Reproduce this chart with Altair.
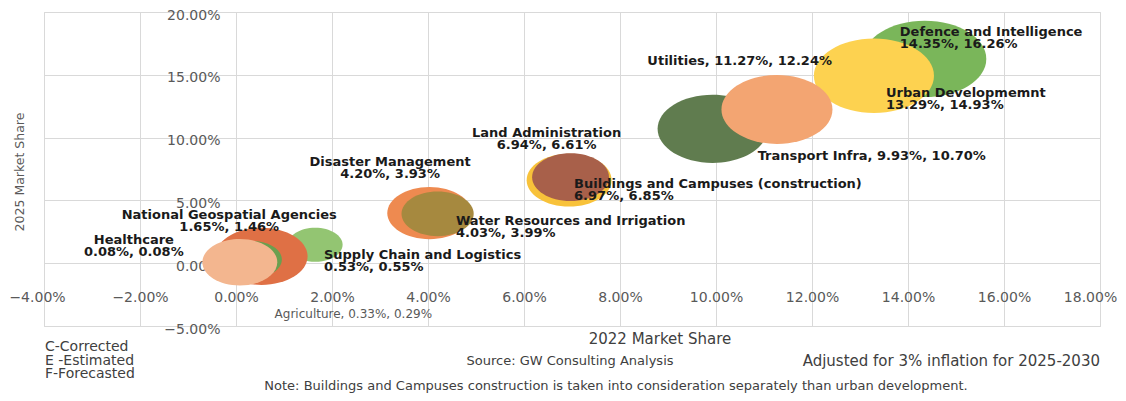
import altair as alt
import pandas as pd

# ---- data ----
names = [
    "Defence and Intelligence",
    "Urban Developmemnt",
    "Transport Infra",
    "Utilities",
    "Land Administration",
    "Buildings and Campuses (construction)",
    "Water Resources and Irrigation",
    "Disaster Management",
    "National Geospatial Agencies",
    "Supply Chain and Logistics",
    "Agriculture",
    "Healthcare",
]
share_2022 = [14.35, 13.29, 9.93, 11.27, 6.94, 6.97, 4.03, 4.20, 1.65, 0.53, 0.33, 0.08]
share_2025 = [16.26, 14.93, 10.70, 12.24, 6.61, 6.85, 3.99, 3.93, 1.46, 0.55, 0.29, 0.08]
bubble_area = [151, 144, 121, 123, 72, 59, 71, 52, 30, 85, 36, 56]  # relative bubble sizes
x_ticks = [-4, -2, 0, 2, 4, 6, 8, 10, 12, 14, 16, 18]
y_ticks = [-5, 0, 5, 10, 15, 20]

# ---- styling / layout (not data) ----
colors = ["#7ab65a", "#fdd250", "#607c4f", "#f3a572", "#f8c23a", "#a8604a",
          "#ee8a50", "#a6893f", "#93c572", "#df7045", "#6a9f4f", "#f3b68f"]
# label layout: (align, dx, dy, separator, bold)
label_layout = {
    "Defence and Intelligence": ("left", -25, -33, "\n", True),
    "Urban Developmemnt": ("left", 12, 11, "\n", True),
    "Transport Infra": ("left", 45, 21, ", ", True),
    "Utilities": ("right", 55, -54.5, ", ", True),
    "Land Administration": ("center", -22.5, -53.5, "\n", True),
    "Buildings and Campuses (construction)": ("left", 3.5, 0.5, "\n", True),
    "Water Resources and Irrigation": ("left", 26.5, 1.5, "\n", True),
    "Disaster Management": ("center", -47.5, -57.5, "\n", True),
    "National Geospatial Agencies": ("center", -86, -36, "\n", True),
    "Supply Chain and Logistics": ("left", 62.5, -7.5, "\n", True),
    "Agriculture": ("center", 101.5, 49.5, ", ", False),
    "Healthcare": ("center", -106, -28.5, "\n", True),
}

FONT = "DejaVu Sans"
ELLIPSE = "M -1 0 A 1 0.62 0 1 1 1 0 A 1 0.62 0 1 1 -1 0 Z"

labels = []
for n, a, b in zip(names, share_2022, share_2025):
    sep = label_layout[n][3]
    labels.append(f"{n}{sep}{a:.2f}%, {b:.2f}%")

df = pd.DataFrame({
    "name": names,
    "share_2022": share_2022,
    "share_2025": share_2025,
    "bubble": bubble_area,
    "label": labels,
    "z": list(range(len(names))),
})

x_scale = alt.Scale(domain=[-4, 18], nice=False, zero=False)
y_scale = alt.Scale(domain=[-5, 20], nice=False, zero=False)
x_axis = alt.Axis(values=x_ticks, labelExpr="format(datum.value, '.2f') + '%'",
                  title=None, grid=True, gridColor="#d9d9d9", gridWidth=1,
                  domain=False, ticks=False, tickSize=0, labelPadding=-36,
                  labelOffset=alt.ExprRef("datum.value == -4 ? -7 : (datum.value == 18 ? -10 : 0)"),
                  labelFont=FONT, labelFontSize=14, labelColor="#595959",
                  labelFlush=False, labelOverlap=False)
y_axis = alt.Axis(values=y_ticks, labelExpr="format(datum.value, '.2f') + '%'",
                  title=None, grid=True, gridColor="#d9d9d9", gridWidth=1,
                  domain=False, ticks=False, tickSize=0, labelPadding=-176,
                  labelOffset=3,
                  labelFont=FONT, labelFontSize=14, labelColor="#595959",
                  labelFlush=False, labelOverlap=False)

X = alt.X("share_2022:Q", scale=x_scale, axis=x_axis)
Y = alt.Y("share_2025:Q", scale=y_scale, axis=y_axis)

base = alt.Chart(df)

bubbles = base.mark_point(shape=ELLIPSE, filled=True, opacity=1, strokeWidth=0).encode(
    x=X, y=Y,
    size=alt.Size("bubble:Q", scale=alt.Scale(domain=[0, 151], range=[0, 15129]), legend=None),
    color=alt.Color("name:N", scale=alt.Scale(domain=names, range=colors), legend=None),
    order=alt.Order("z:Q"),
)

layers = [bubbles]
for n in names:
    align, dx, dy, sep, bold = label_layout[n]
    layers.append(
        base.transform_filter(alt.datum.name == n).mark_text(
            align=align, baseline="top", dx=dx, dy=dy, lineBreak="\n", lineHeight=12,
            font=FONT, fontSize=13 if bold else 12,
            fontWeight="bold" if bold else "normal",
            color="#1a1a1a" if bold else "#595959",
        ).encode(x=X, y=Y, text="label:N")
    )

one = pd.DataFrame({"k": [0]})


def note(text, x, y, size, align="left", color="#404040", angle=0):
    return alt.Chart(one).mark_text(
        text=text, align=align, baseline="middle", font=FONT, fontSize=size,
        color=color, angle=angle,
    ).encode(x=alt.value(x), y=alt.value(y))


# positions below are relative to the plot's top-left corner (44, 12 on the page)
layers += [
    note("2022 Market Share", 616, 327, 15, "center"),
    note("2025 Market Share", -24, 160, 12.5, "center", "#595959", 270),
    note("C-Corrected", 1, 335, 14),
    note("E -Estimated", 1, 349, 14),
    note("F-Forecasted", 1, 362, 14),
    note("Source: GW Consulting Analysis", 526, 349, 13, "center"),
    note("Adjusted for 3% inflation for 2025-2030", 1056, 349, 15, "right"),
    note("Note: Buildings and Campuses construction is taken into consideration separately than urban development.",
         572, 373.5, 13, "center"),
]

chart = alt.layer(*layers).properties(
    width=1056, height=314,
    autosize=alt.AutoSizeParams(type="none"),
    padding={"left": 36, "top": 4, "right": 18, "bottom": 67},
    background="white",
).configure_view(stroke="#d9d9d9", strokeWidth=1)

chart.save("out.html", embed_options={"renderer": "svg", "actions": False})
